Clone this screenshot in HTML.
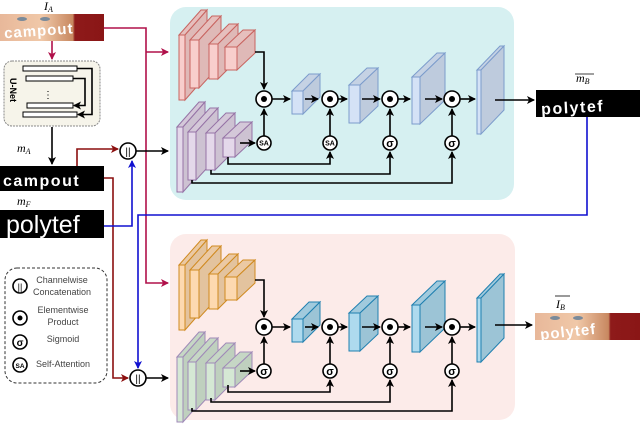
<!DOCTYPE html>
<html><head><meta charset="utf-8"><style>
html,body{margin:0;padding:0;background:#fff;}
svg{display:block;}
text{font-family:"Liberation Sans",sans-serif;}
.m{font-family:"Liberation Serif",serif;font-style:italic;font-size:12px;fill:#000;}
.lg{font-size:9px;fill:#444;text-anchor:middle;}
.op{fill:#fff;stroke:#000;stroke-width:1.6;}
.ln{fill:none;stroke:#000;stroke-width:1.6;}
</style></head><body>
<svg id="s" width="640" height="427" viewBox="0 0 640 427" xmlns="http://www.w3.org/2000/svg">
<defs>
<marker id="ab" markerWidth="8" markerHeight="8" refX="7" refY="4" orient="auto" markerUnits="userSpaceOnUse"><path d="M0,0 L8,4 L0,8 L2,4z" fill="#000"/></marker>
<marker id="ac" markerWidth="8" markerHeight="8" refX="7" refY="4" orient="auto" markerUnits="userSpaceOnUse"><path d="M0,0 L8,4 L0,8 L2,4z" fill="#b0104a"/></marker>
<marker id="ar" markerWidth="8" markerHeight="8" refX="7" refY="4" orient="auto" markerUnits="userSpaceOnUse"><path d="M0,0 L8,4 L0,8 L2,4z" fill="#8b0f0f"/></marker>
<marker id="au" markerWidth="8" markerHeight="8" refX="7" refY="4" orient="auto" markerUnits="userSpaceOnUse"><path d="M0,0 L8,4 L0,8 L2,4z" fill="#1010d0"/></marker>
<linearGradient id="face" x1="0" y1="0" x2="1" y2="0">
<stop offset="0" stop-color="#e8b89a"/><stop offset="0.4" stop-color="#f0c8a8"/><stop offset="0.7" stop-color="#c88860"/><stop offset="0.72" stop-color="#8e1a1a"/><stop offset="1" stop-color="#8a1616"/></linearGradient>
</defs>
<!-- panels -->
<rect x="170" y="7" width="344" height="193" rx="16" fill="#d6f0f1"/>
<rect x="170" y="234" width="345" height="186" rx="16" fill="#fcebe9"/>
<g id="boxes"></g>

<!-- left inputs -->
<text x="44" y="10" class="m">I<tspan font-size="8" dy="2">A</tspan></text>
<rect x="0" y="14" width="104" height="27" fill="url(#face)"/>
<ellipse cx="22" cy="19" rx="5" ry="2" fill="#7a8a9a"/><ellipse cx="45" cy="19" rx="5" ry="2" fill="#7a8a9a"/>
<text x="4" y="35" font-size="15" font-weight="bold" fill="#fff" letter-spacing="1" transform="rotate(-4 50 30)">campout</text>
<line x1="52" y1="41" x2="52" y2="59" stroke="#b0104a" stroke-width="1.6" marker-end="url(#ac)"/>
<rect x="4" y="61" width="96" height="65" rx="8" fill="#f6f4ea" stroke="#888" stroke-width="1" stroke-dasharray="2,1"/>
<text x="0" y="0" font-size="9" font-weight="bold" transform="translate(10,78) rotate(90)">U-Net</text>
<g fill="#fff" stroke="#000" stroke-width="1">
<rect x="23" y="66" width="54" height="5"/><rect x="26" y="76" width="47" height="5"/>
<rect x="27" y="103" width="46" height="5"/><rect x="23" y="112" width="54" height="5"/></g>
<path d="M77,68.5 H92 V114.5 H78" class="ln" stroke-width="1" marker-end="url(#ab)"/>
<path d="M73,78.5 H85 V105.5 H74" class="ln" stroke-width="1" marker-end="url(#ab)"/>
<text x="48" y="98" font-size="10" text-anchor="middle">⋮</text>
<line x1="52" y1="127" x2="52" y2="164" class="ln" marker-end="url(#ab)"/>
<text x="17" y="152" class="m">m<tspan font-size="8" dy="2">A</tspan></text>
<rect x="0" y="166" width="104" height="25" fill="#000"/>
<text x="3" y="186" font-size="16" font-weight="bold" fill="#fff" letter-spacing="1.5">campout</text>
<text x="17" y="205" class="m">m<tspan font-size="8" dy="2">F</tspan></text>
<rect x="0" y="210" width="104" height="28" fill="#000"/>
<text x="6" y="233" font-size="25" fill="#fff">polytef</text>

<!-- connector lines -->
<path d="M104,28 H146 V283 H168" fill="none" stroke="#b0104a" stroke-width="1.6" marker-end="url(#ac)"/>
<path d="M146,52 H168" fill="none" stroke="#b0104a" stroke-width="1.6" marker-end="url(#ac)"/>
<path d="M77,166 V149 H118" fill="none" stroke="#8b0f0f" stroke-width="1.6" marker-end="url(#ar)"/>
<path d="M104,178 H113 V378 H128" fill="none" stroke="#8b0f0f" stroke-width="1.6" marker-end="url(#ar)"/>
<path d="M104,226 H132 V161" fill="none" stroke="#1010d0" stroke-width="1.6" marker-end="url(#au)"/>
<path d="M587,117 V215 H138 V368" fill="none" stroke="#1010d0" stroke-width="1.6" marker-end="url(#au)"/>
<circle cx="128" cy="151" r="8" class="op"/><text x="128" y="155" font-size="10" text-anchor="middle">||</text>
<line x1="136" y1="151" x2="168" y2="151" class="ln" marker-end="url(#ab)"/>
<circle cx="138" cy="378" r="8" class="op"/><text x="138" y="382" font-size="10" text-anchor="middle">||</text>
<line x1="146" y1="378" x2="168" y2="378" class="ln" marker-end="url(#ab)"/>

<!-- legend -->
<rect x="5" y="268" width="102" height="115" rx="12" fill="#fff" stroke="#333" stroke-width="1" stroke-dasharray="3,2"/>
<circle cx="20" cy="286" r="7" class="op" stroke-width="1.3"/><text x="20" y="290" font-size="9" text-anchor="middle">||</text>
<text x="62" y="283" class="lg">Channelwise</text><text x="62" y="295" class="lg">Concatenation</text>
<circle cx="20" cy="318" r="7" class="op" stroke-width="1.3"/><circle cx="20" cy="318" r="2.5"/>
<text x="63" y="313" class="lg">Elementwise</text><text x="63" y="325" class="lg">Product</text>
<circle cx="20" cy="342" r="7" class="op" stroke-width="1.3"/><text x="20" y="346" font-size="10" font-weight="bold" text-anchor="middle">σ</text>
<text x="63" y="342" class="lg">Sigmoid</text>
<circle cx="20" cy="365" r="7" class="op" stroke-width="1.3"/><text x="20" y="368" font-size="6.5" font-weight="bold" text-anchor="middle">SA</text>
<text x="63" y="367" class="lg">Self-Attention</text>

<g id="ops"></g>

<!-- outputs -->
<line x1="495" y1="100" x2="534" y2="100" class="ln" marker-end="url(#ab)"/>
<text x="576" y="82" class="m">m<tspan font-size="8" dy="2">B</tspan></text>
<line x1="575" y1="74" x2="594" y2="74" stroke="#000" stroke-width="0.8"/>
<rect x="536" y="90" width="104" height="27" fill="#000"/>
<text x="541" y="112" font-size="16" font-weight="bold" fill="#fff" letter-spacing="1.5" transform="rotate(-3 590 105)">polytef</text>
<line x1="495" y1="325" x2="532" y2="325" class="ln" marker-end="url(#ab)"/>
<text x="556" y="308" class="m">I<tspan font-size="8" dy="2">B</tspan></text>
<line x1="555" y1="296" x2="570" y2="296" stroke="#000" stroke-width="0.8"/>
<rect x="535" y="313" width="105" height="27" fill="url(#face)"/>
<ellipse cx="555" cy="318" rx="5" ry="2" fill="#7a8a9a"/><ellipse cx="578" cy="318" rx="5" ry="2" fill="#7a8a9a"/>
<text x="540" y="335" font-size="15" font-weight="bold" fill="#fff" letter-spacing="1" transform="rotate(-6 585 330)">polytef</text>
</svg>
<script>
var NS="http://www.w3.org/2000/svg";
function el(p,t,a){var e=document.createElementNS(NS,t);for(var k in a)e.setAttribute(k,a[k]);p.appendChild(e);return e;}
var B=document.getElementById("boxes");
function box(x,y,w,h,dx,dy,f,s){
 var sw={fill:f,stroke:s,"stroke-width":1};
 el(B,"polygon",Object.assign({points:[x,y,x+dx,y+dy,x+w+dx,y+dy,x+w,y].join(",")},sw,{fill:shade(f,0.93)}));
 el(B,"polygon",Object.assign({points:[x+w,y,x+w+dx,y+dy,x+w+dx,y+h+dy,x+w,y+h].join(",")},sw,{fill:shade(f,0.9)}));
 el(B,"rect",Object.assign({x:x,y:y,width:w,height:h},sw));
}
function shade(c,k){var n=parseInt(c.slice(1),16);var r=(n>>16)*k|0,g=((n>>8)&255)*k|0,b=(n&255)*k|0;return "rgb("+r+","+g+","+b+")";}
function enc(oy,f,s){
 box(179,35+oy,6,65,22,-25,f,s);box(190,40+oy,9,48,22,-24,f,s);box(209,44+oy,9,35,20,-20,f,s);box(225,47+oy,12,23,18,-17,f,s);}
function enc2(oy,f,s){
 box(177,127+oy,6,65,22,-25,f,s);box(188,132+oy,8,48,22,-24,f,s);box(206,133+oy,9,37,20,-20,f,s);box(223,138+oy,12,19,17,-16,f,s);}
function dec(oy,f,s){
 box(292,91+oy,11,23,17,-17,f,s);box(349,85+oy,11,38,18,-17,f,s);box(412,77+oy,8,47,25,-24,f,s);box(477,70+oy,4,64,23,-24,f,s);}
enc(0,"#f8cecc","#c86460");enc2(0,"#e4d8ea","#9673a6");dec(0,"#d4e2f6","#7c9ccc");
enc(230,"#fdd9b0","#d08a20");enc2(230,"#d5e8d4","#a08ab8");dec(228,"#aedaee","#2080b0");
var O=document.getElementById("ops");
function ln(d,m){el(O,"path",{d:d,"class":"ln","marker-end":m?"url(#ab)":""});}
function odot(x,y){el(O,"circle",{cx:x,cy:y,r:8,"class":"op"});el(O,"circle",{cx:x,cy:y,r:3});}
function sig(x,y,t){el(O,"circle",{cx:x,cy:y,r:7,"class":"op"});var e=el(O,"text",{x:x,y:y+(t?2.5:4),"font-size":t?7:11,"font-weight":"bold","text-anchor":"middle"});e.textContent=t?"SA":"σ";}
function row(oy,sa){
 ln("M255,"+(52+oy)+" H264 V"+(89+oy),1);
 ln("M240,"+(143+oy)+" H255",1);
 ln("M264,"+(136+oy)+" V"+(109+oy),1);
 ln("M228,"+(157+oy)+" V"+(164+oy)+" H330 V"+(152+oy),1);
 ln("M211,"+(170+oy)+" V"+(174+oy)+" H390 V"+(152+oy),1);
 ln("M192,"+(180+oy)+" V"+(183+oy)+" H452 V"+(152+oy),1);
 [330,390,452].forEach(function(x){ln("M"+x+","+(136+oy)+" V"+(109+oy),1);});
 [[272,290],[305,318],[336,347],[362,380],[398,410],[425,442],[460,475]].forEach(function(p){ln("M"+p[0]+","+(99+oy)+" H"+p[1],1);});
 [264,330,390,452].forEach(function(x){odot(x,99+oy);});
 sig(264,143+oy,sa);sig(330,143+oy,sa);sig(390,143+oy,0);sig(452,143+oy,0);
}
row(0,1);row(228,0);
</script>
</body></html>
